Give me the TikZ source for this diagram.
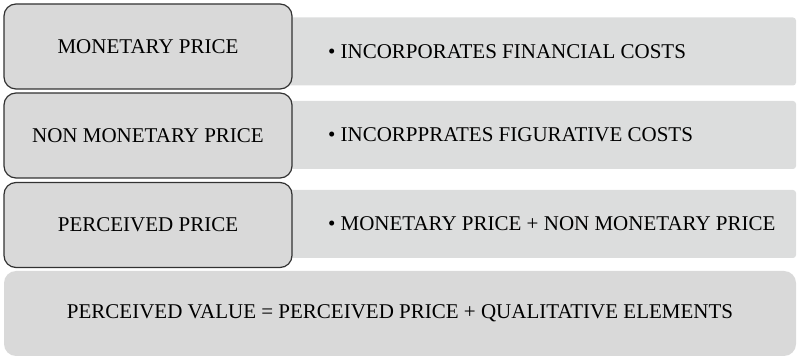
\documentclass[tikz,border=0pt]{standalone}
\usepackage{fontspec}
\setmainfont{Liberation Serif}
\definecolor{boxgray}{RGB}{217,217,217}
\definecolor{bargray}{RGB}{220,221,221}
\definecolor{edgegray}{RGB}{50,50,50}
\begin{document}
\begin{tikzpicture}[x=0.5pt,y=-0.5pt,
  pricebox/.style={draw=edgegray,line width=0.6pt,fill=boxgray,rounded corners=6pt,
    minimum width=144pt,minimum height=42.5pt,font=\fontsize{10.5}{12}\selectfont},
  infobar/.style={fill=bargray,rounded corners=1.5pt,minimum width=255pt,minimum height=34pt},
  bartext/.style={anchor=west,inner sep=0pt,font=\fontsize{10.5}{12}\selectfont},
  valuebar/.style={fill=boxgray,rounded corners=6pt,minimum width=396pt,minimum height=42.5pt,
    font=\fontsize{10.5}{12}\selectfont}]
  \useasboundingbox (0,0) rectangle (797,357);
  \node[infobar] (bar1) at (541,51.5) {};
  \node[infobar] (bar2) at (541,135) {};
  \node[infobar] (bar3) at (541,224) {};
  \node[bartext] (info1) at ([xshift=21pt]bar1.west) {\textbullet\ INCORPORATES FINANCIAL COSTS};
  \node[bartext] (info2) at ([xshift=21pt]bar2.west) {\textbullet\ INCORPPRATES FIGURATIVE COSTS};
  \node[bartext] (info3) at ([xshift=21pt]bar3.west) {\textbullet\ MONETARY PRICE + NON MONETARY PRICE};
  \node[pricebox] (money) at (148,46.5) {MONETARY PRICE};
  \node[pricebox] (nonmoney) at (148,135.5) {NON MONETARY PRICE};
  \node[pricebox] (perceived) at (148,225) {PERCEIVED PRICE};
  \node[valuebar] (value) at (400,313.5) {PERCEIVED VALUE = PERCEIVED PRICE + QUALITATIVE ELEMENTS};
\end{tikzpicture}
\end{document}
